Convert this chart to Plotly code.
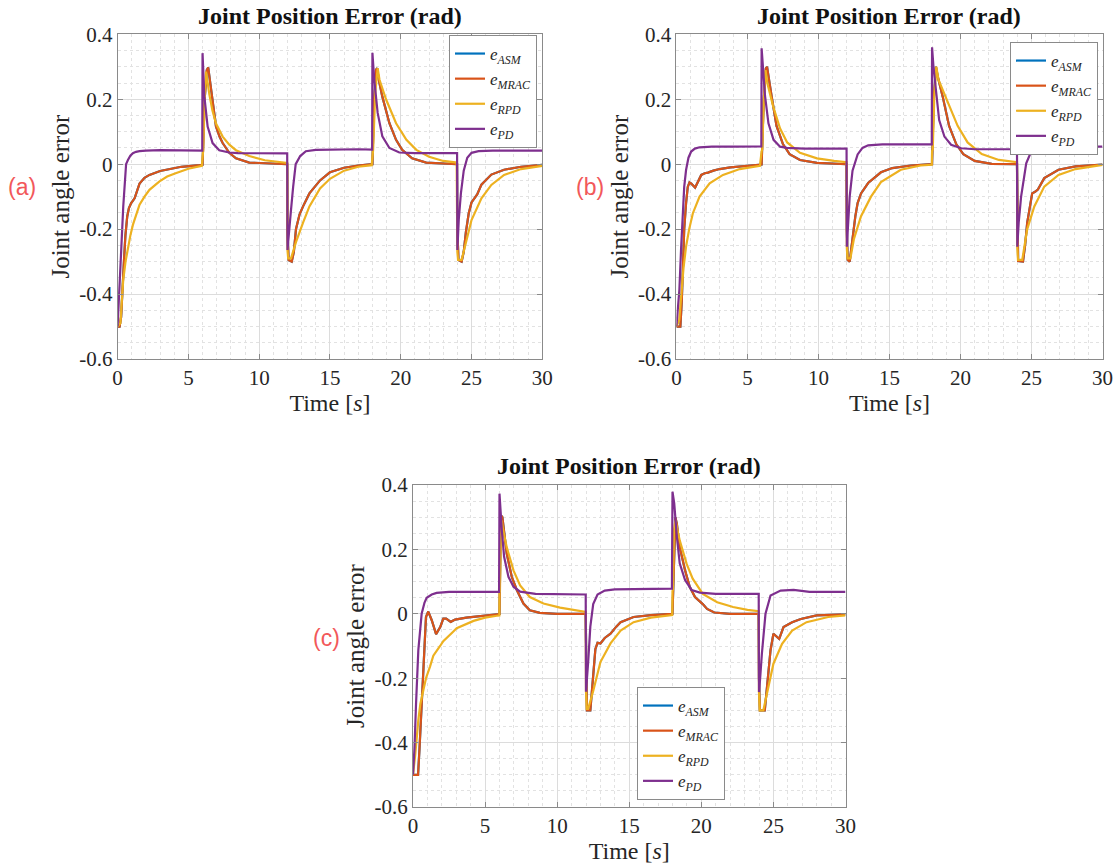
import plotly.graph_objects as go

# Time axis ticks and y-axis ticks shared by all three panels
X_TICKS = [0, 5, 10, 15, 20, 25, 30]
Y_TICKS = [-0.6, -0.4, -0.2, 0, 0.2, 0.4]
Y_TICK_TEXT = ["-0.6", "-0.4", "-0.2", "0", "0.2", "0.4"]

# ---- Panel (a): (time [s], error [rad]) samples ----
A_MRAC = [(0, -0.5), (0.14, -0.5), (0.25, -0.47), (0.35, -0.4), (0.44, -0.305), (0.55, -0.22),
          (0.68, -0.161), (0.8, -0.135), (0.96, -0.12), (1.2, -0.105), (1.4, -0.08), (1.55, -0.06),
          (1.9, -0.042), (2.25, -0.033), (3.0, -0.021), (3.66, -0.015), (4.5, -0.008), (5.8, -0.003),
          (6.0, -0.002), (6.15, 0.2), (6.3, 0.29), (6.4, 0.298), (6.48, 0.27), (6.7, 0.19),
          (6.95, 0.116), (7.2, 0.085), (7.42, 0.065), (7.89, 0.035), (8.36, 0.018), (9.3, 0.005),
          (10.5, 0.002), (11.98, 0.0), (12.0, -0.2), (12.08, -0.295), (12.3, -0.3), (12.45, -0.27),
          (12.6, -0.2), (12.85, -0.155), (13.1, -0.13), (13.55, -0.09), (14.3, -0.05), (15, -0.025),
          (16, -0.011), (17, -0.004), (18.0, 0.0), (18.12, 0.2), (18.25, 0.29), (18.33, 0.296),
          (18.45, 0.26), (18.7, 0.208), (19.2, 0.126), (19.67, 0.075), (20.1, 0.044), (20.8, 0.018),
          (21.8, 0.005), (23, 0.001), (23.98, 0.0), (24.0, -0.2), (24.08, -0.295), (24.3, -0.3),
          (24.45, -0.27), (24.6, -0.21), (24.8, -0.152), (25.0, -0.118), (25.2, -0.105), (25.4, -0.093),
          (25.7, -0.063), (26.4, -0.032), (27.3, -0.017), (28.5, -0.008), (30, -0.002)]
A_RPD = [(0, -0.5), (0.2, -0.49), (0.3, -0.42), (0.4, -0.356), (0.56, -0.3), (0.73, -0.254),
         (0.9, -0.22), (1.08, -0.187), (1.3, -0.155), (1.55, -0.125), (1.9, -0.1), (2.25, -0.079),
         (2.96, -0.053), (3.5, -0.038), (4.1, -0.028), (5.0, -0.014), (5.95, -0.005), (6.0, 0.04),
         (6.05, 0.045), (6.15, 0.2), (6.25, 0.285), (6.3, 0.27), (6.48, 0.215), (6.7, 0.165),
         (6.95, 0.125), (7.42, 0.085), (7.89, 0.06), (8.36, 0.043), (9.3, 0.025), (10.4, 0.012),
         (11.6, 0.005), (11.98, 0.004), (12.0, -0.265), (12.05, -0.29), (12.25, -0.29), (12.6, -0.24),
         (13.1, -0.18), (13.55, -0.13), (14.3, -0.075), (15, -0.045), (16, -0.02), (17, -0.008),
         (17.95, -0.003), (18.0, 0.04), (18.05, 0.045), (18.2, 0.22), (18.37, 0.296), (18.5, 0.26),
         (18.96, 0.2), (19.67, 0.126), (20.4, 0.075), (21.1, 0.044), (22.0, 0.023), (23.0, 0.01),
         (23.95, 0.005), (24.0, -0.27), (24.05, -0.295), (24.3, -0.295), (24.6, -0.243), (25.0, -0.172),
         (25.7, -0.105), (26.4, -0.064), (27.3, -0.033), (28.5, -0.015), (30, -0.005)]
A_PD = [(0, -0.5), (0.1, -0.42), (0.26, -0.26), (0.4, -0.13), (0.49, -0.06), (0.6, 0.0),
        (0.73, 0.013), (0.9, 0.026), (1.08, 0.034), (1.3, 0.038), (1.55, 0.04), (2.0, 0.042),
        (3.0, 0.043), (4.0, 0.042), (5.0, 0.043), (5.98, 0.042), (6.0, 0.342), (6.13, 0.208),
        (6.36, 0.116), (6.71, 0.065), (7.18, 0.043), (7.88, 0.036), (8.5, 0.034), (10, 0.033),
        (11.98, 0.033), (12.0, -0.264), (12.1, -0.2), (12.23, -0.15), (12.4, -0.07), (12.58, 0.0),
        (12.9, 0.025), (13.3, 0.04), (14.0, 0.044), (15, 0.045), (16, 0.045), (17, 0.046),
        (17.98, 0.045), (18.0, 0.343), (18.13, 0.26), (18.37, 0.158), (18.7, 0.086), (19.2, 0.05),
        (19.9, 0.036), (21, 0.034), (22.5, 0.034), (23.98, 0.034), (24.0, -0.264), (24.1, -0.17),
        (24.25, -0.09), (24.45, -0.02), (24.7, 0.02), (25.0, 0.035), (25.5, 0.04), (26.5, 0.042),
        (28, 0.042), (30, 0.042)]

# ---- Panel (b) ----
B_MRAC = [(0, -0.5), (0.28, -0.5), (0.38, -0.42), (0.45, -0.3), (0.55, -0.2), (0.68, -0.12),
          (0.8, -0.07), (0.92, -0.056), (1.05, -0.06), (1.32, -0.072), (1.5, -0.055), (1.75, -0.033),
          (2.0, -0.028), (2.22, -0.026), (2.6, -0.02), (3.04, -0.015), (3.8, -0.01), (4.46, -0.007),
          (5.9, -0.002), (6.0, -0.001), (6.15, 0.2), (6.3, 0.295), (6.38, 0.3), (6.5, 0.27),
          (6.7, 0.21), (7.05, 0.118), (7.5, 0.062), (7.97, 0.031), (8.7, 0.013), (9.9, 0.004),
          (11.98, 0.0), (12.0, -0.2), (12.06, -0.295), (12.2, -0.3), (12.4, -0.22), (12.6, -0.16),
          (12.76, -0.12), (13.0, -0.09), (13.5, -0.058), (14.4, -0.025), (15.2, -0.012), (16.5, -0.004),
          (18.0, 0.0), (18.12, 0.2), (18.27, 0.3), (18.4, 0.27), (18.75, 0.208), (19.2, 0.118),
          (19.7, 0.062), (20.2, 0.031), (21.0, 0.01), (22.2, 0.001), (23.98, 0.0), (24.0, -0.2),
          (24.06, -0.298), (24.4, -0.3), (24.55, -0.25), (24.7, -0.18), (24.9, -0.12), (25.05, -0.09),
          (25.25, -0.085), (25.45, -0.078), (25.9, -0.043), (26.9, -0.017), (28.1, -0.007), (30, -0.001)]
B_RPD = [(0, -0.5), (0.2, -0.48), (0.35, -0.4), (0.5, -0.32), (0.68, -0.254), (0.9, -0.2),
         (1.16, -0.151), (1.63, -0.1), (2.34, -0.059), (3.28, -0.033), (4.46, -0.015), (5.88, -0.005),
         (6.0, 0.04), (6.05, 0.045), (6.15, 0.2), (6.28, 0.29), (6.4, 0.25), (6.8, 0.18), (7.3, 0.11),
         (7.8, 0.067), (8.7, 0.035), (9.9, 0.018), (11.1, 0.01), (11.98, 0.006), (12.0, -0.26),
         (12.05, -0.29), (12.25, -0.29), (12.5, -0.23), (13.0, -0.16), (13.7, -0.1), (14.4, -0.055),
         (15.8, -0.017), (17.2, -0.004), (17.98, -0.002), (18.0, 0.04), (18.05, 0.045), (18.15, 0.2),
         (18.3, 0.3), (18.45, 0.26), (19.1, 0.19), (19.8, 0.118), (20.5, 0.067), (21.5, 0.031),
         (22.7, 0.013), (23.98, 0.006), (24.0, -0.254), (24.05, -0.295), (24.35, -0.295), (24.7, -0.2),
         (25.2, -0.13), (25.9, -0.069), (26.9, -0.033), (28.1, -0.015), (30, -0.002)]
B_PD = [(0, -0.5), (0.1, -0.45), (0.21, -0.387), (0.33, -0.26), (0.45, -0.151), (0.55, -0.07),
        (0.68, -0.018), (0.85, 0.02), (1.04, 0.039), (1.3, 0.048), (1.63, 0.052), (2.5, 0.054),
        (4, 0.054), (5.98, 0.055), (6.0, 0.357), (6.1, 0.3), (6.24, 0.21), (6.48, 0.126),
        (6.84, 0.075), (7.3, 0.054), (7.78, 0.05), (9, 0.048), (11.98, 0.048), (12.0, -0.254),
        (12.08, -0.2), (12.2, -0.1), (12.4, -0.02), (12.76, 0.03), (13.1, 0.05), (13.5, 0.058),
        (14.5, 0.061), (16, 0.061), (17.98, 0.061), (18.0, 0.36), (18.1, 0.3), (18.27, 0.23),
        (18.5, 0.136), (18.87, 0.085), (19.34, 0.06), (20.05, 0.049), (21, 0.046), (23.98, 0.046),
        (24.0, -0.254), (24.1, -0.18), (24.27, -0.1), (24.63, 0.003), (24.98, 0.039), (25.45, 0.052),
        (26.2, 0.054), (28, 0.054), (30, 0.054)]

# ---- Panel (c) ----
C_MRAC = [(0, -0.5), (0.35, -0.5), (0.45, -0.42), (0.6, -0.28), (0.77, -0.12), (0.9, -0.01),
          (1.06, 0.007), (1.3, -0.02), (1.6, -0.063), (1.9, -0.04), (2.1, -0.015), (2.3, -0.015),
          (2.62, -0.025), (2.92, -0.018), (3.7, -0.012), (4.9, -0.006), (5.93, -0.002), (6.0, -0.001),
          (6.06, 0.2), (6.12, 0.305), (6.2, 0.3), (6.5, 0.187), (6.85, 0.115), (7.2, 0.074),
          (7.66, 0.032), (8.1, 0.011), (8.8, 0.003), (10, 0.0), (11.98, 0.0), (12.0, -0.2),
          (12.06, -0.3), (12.3, -0.3), (12.5, -0.2), (12.65, -0.11), (12.8, -0.09), (13.0, -0.092),
          (13.3, -0.075), (13.7, -0.062), (14.1, -0.04), (14.4, -0.026), (15.3, -0.01), (16.5, -0.004),
          (18.0, 0.0), (18.1, 0.2), (18.2, 0.3), (18.3, 0.28), (18.5, 0.207), (18.87, 0.135),
          (19.2, 0.083), (19.56, 0.052), (19.9, 0.04), (20.1, 0.03), (20.4, 0.015), (20.9, 0.004),
          (22, 0.0), (23.98, 0.0), (24.0, -0.2), (24.06, -0.3), (24.4, -0.3), (24.6, -0.217),
          (24.8, -0.113), (25.0, -0.062), (25.2, -0.07), (25.4, -0.078), (25.7, -0.041), (26.3, -0.026),
          (26.9, -0.016), (28, -0.005), (30, -0.002)]
C_RPD = [(0, -0.5), (0.15, -0.44), (0.37, -0.33), (0.51, -0.28), (0.72, -0.237), (0.9, -0.2),
         (1.18, -0.164), (1.41, -0.13), (1.88, -0.1), (2.1, -0.085), (2.8, -0.055), (3.03, -0.045),
         (4.2, -0.022), (5.0, -0.012), (5.81, -0.006), (5.99, -0.005), (6.0, 0.065), (6.03, 0.07),
         (6.1, 0.25), (6.15, 0.29), (6.25, 0.26), (6.5, 0.207), (6.97, 0.135), (7.43, 0.088),
         (8.1, 0.052), (9.05, 0.032), (10.2, 0.019), (11.4, 0.01), (11.98, 0.006), (12.0, -0.24),
         (12.05, -0.295), (12.15, -0.295), (12.5, -0.24), (13.0, -0.15), (13.7, -0.092), (14.4, -0.052),
         (15.3, -0.026), (16.5, -0.012), (17.5, -0.006), (17.98, -0.004), (18.0, 0.07), (18.03, 0.075),
         (18.1, 0.26), (18.2, 0.29), (18.5, 0.228), (18.98, 0.155), (19.4, 0.109), (20.1, 0.062),
         (21.1, 0.036), (22.2, 0.021), (23.2, 0.012), (23.98, 0.008), (24.0, -0.243), (24.05, -0.3),
         (24.3, -0.3), (24.6, -0.238), (25.0, -0.155), (25.6, -0.093), (26.3, -0.052), (27.3, -0.026),
         (28.8, -0.01), (30, -0.005)]
C_PD = [(0, -0.5), (0.1, -0.42), (0.21, -0.28), (0.37, -0.113), (0.6, 0.0), (0.8, 0.035),
        (0.95, 0.05), (1.3, 0.06), (1.64, 0.065), (2.5, 0.068), (4, 0.068), (5.97, 0.068),
        (6.0, 0.373), (6.04, 0.343), (6.16, 0.26), (6.32, 0.177), (6.62, 0.115), (6.97, 0.084),
        (7.43, 0.069), (8.5, 0.062), (10, 0.061), (11.98, 0.06), (12.0, -0.242), (12.08, -0.2),
        (12.15, -0.15), (12.3, -0.04), (12.5, 0.03), (12.8, 0.06), (13.3, 0.072), (14, 0.076),
        (16, 0.078), (17.96, 0.078), (18.0, 0.379), (18.12, 0.343), (18.3, 0.24), (18.5, 0.157),
        (18.87, 0.105), (19.33, 0.074), (19.9, 0.066), (21, 0.062), (23.98, 0.062), (24.0, -0.243),
        (24.08, -0.2), (24.2, -0.124), (24.45, 0.0), (24.8, 0.057), (25.5, 0.072), (26.4, 0.074),
        (27.5, 0.068), (30, 0.068)]

# The ASM error coincides with the MRAC error and is drawn underneath it
PANELS = [
    ("", "", "legend", {"ASM": A_MRAC, "MRAC": A_MRAC, "RPD": A_RPD, "PD": A_PD}),
    ("2", "2", "legend2", {"ASM": B_MRAC, "MRAC": B_MRAC, "RPD": B_RPD, "PD": B_PD}),
    ("3", "3", "legend3", {"ASM": C_MRAC, "MRAC": C_MRAC, "RPD": C_RPD, "PD": C_PD}),
]
COLORS = {"ASM": "#0072BD", "MRAC": "#D95319", "RPD": "#EDB120", "PD": "#7E2F8E"}
NAMES = {k: f"<i>e</i><sub><i>{k}</i></sub>" for k in COLORS}

SERIF = "Liberation Serif, DejaVu Serif, serif"
TEXT = "#262626"
BOX = "#8a8a8a"

fig = go.Figure()
for xs, ys, leg, series in PANELS:
    for key in ["ASM", "MRAC", "RPD", "PD"]:
        pts = series[key]
        fig.add_trace(go.Scatter(
            x=[p[0] for p in pts], y=[p[1] for p in pts], mode="lines",
            name=NAMES[key], line=dict(color=COLORS[key], width=2.2),
            xaxis="x" + xs, yaxis="y" + ys, legend=leg, showlegend=True,
        ))


def xaxis(domain, anchor):
    return dict(
        domain=domain, anchor=anchor, range=[0, 30], tickvals=X_TICKS, automargin=False,
        ticks="inside", ticklen=5, tickcolor=BOX, showline=True, linecolor=BOX, linewidth=1,
        mirror="ticks", showgrid=True, gridcolor="#dcdcdc", gridwidth=1, zeroline=False,
        minor=dict(dtick=1, tick0=0, showgrid=True, gridcolor="#e2e2e2", griddash="dot", ticks=""),
        tickfont=dict(family=SERIF, size=21, color=TEXT),
        title=dict(text="Time [<i>s</i>]", font=dict(family=SERIF, size=24, color=TEXT), standoff=2),
    )


def yaxis(domain, anchor):
    return dict(
        domain=domain, anchor=anchor, range=[-0.6, 0.4], tickvals=Y_TICKS, ticktext=Y_TICK_TEXT,
        automargin=False,
        ticks="inside", ticklen=5, tickcolor=BOX, showline=True, linecolor=BOX, linewidth=1,
        mirror="ticks", showgrid=True, gridcolor="#dcdcdc", gridwidth=1, zeroline=False,
        minor=dict(dtick=0.05, tick0=0, showgrid=True, gridcolor="#e2e2e2", griddash="dot", ticks=""),
        tickfont=dict(family=SERIF, size=21, color=TEXT),
        title=dict(text="Joint angle error", font=dict(family=SERIF, size=25, color=TEXT), standoff=2),
    )


W, H = 1118, 867
XA = [117.6 / W, 542.3 / W]
XB = [676.4 / W, 1102.5 / W]
XC = [413.0 / W, 845.5 / W]
YAB = [1 - 359.0 / H, 1 - 34.3 / H]
YC = [1 - 807.0 / H, 1 - 485.0 / H]


def legend(x, y, xanchor, yanchor):
    return dict(
        x=x, y=y, xanchor=xanchor, yanchor=yanchor, xref="paper", yref="paper",
        bgcolor="white", bordercolor=BOX, borderwidth=1,
        font=dict(family=SERIF, size=17, color=TEXT), itemwidth=30, tracegroupgap=0,
    )


annotations = []
for cx, ty in [((XA[0] + XA[1]) / 2, 1 - 16 / H), ((XB[0] + XB[1]) / 2, 1 - 16 / H),
               ((XC[0] + XC[1]) / 2, 1 - 466 / H)]:
    annotations.append(dict(
        text="<b>Joint Position Error (rad)</b>", x=cx, y=ty, xref="paper", yref="paper",
        showarrow=False, xanchor="center", yanchor="middle",
        font=dict(family=SERIF, size=24, color="#111111"),
    ))
for lab, lx, ly in [("(a)", 22, 187), ("(b)", 590, 187), ("(c)", 326, 638)]:
    annotations.append(dict(
        text=lab, x=lx / W, y=1 - ly / H, xref="paper", yref="paper", showarrow=False,
        xanchor="center", yanchor="middle",
        font=dict(family="Liberation Sans, Arial, sans-serif", size=23, color="#f2585a"),
    ))

fig.update_layout(
    width=W, height=H, margin=dict(l=0, r=0, t=0, b=0),
    paper_bgcolor="white", plot_bgcolor="white",
    xaxis=xaxis(XA, "y"), yaxis=yaxis(YAB, "x"),
    xaxis2=xaxis(XB, "y2"), yaxis2=yaxis(YAB, "x2"),
    xaxis3=xaxis(XC, "y3"), yaxis3=yaxis(YC, "x3"),
    legend=legend(537 / W, 1 - 35 / H, "right", "top"),
    legend2=legend(1098 / W, 1 - 42 / H, "right", "top"),
    legend3=legend(637 / W, 1 - 800 / H, "left", "bottom"),
    annotations=annotations,
)

fig.write_html("out.html")
